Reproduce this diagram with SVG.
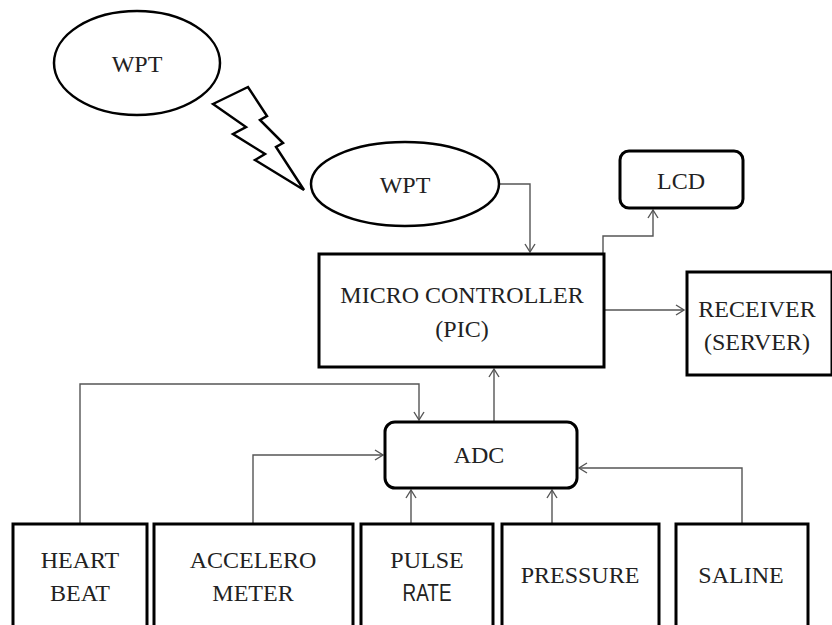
<svg xmlns="http://www.w3.org/2000/svg" width="832" height="625" viewBox="0 0 832 625">
<style>
.box{fill:#fff;stroke:#000;stroke-width:3}
.ell{fill:#fff;stroke:#000;stroke-width:2.5}
.t{font-size:24px;fill:#222;text-anchor:middle}
.s{font-size:24px;fill:#222;text-anchor:middle}
.c{fill:none;stroke:#555;stroke-width:1.4}
</style>
<defs>
<marker id="ar" markerWidth="12" markerHeight="12" viewBox="0 0 12 12" refX="10" refY="6" orient="auto" markerUnits="userSpaceOnUse">
<path d="M2,1 L10,6 L2,11" fill="none" stroke="#555" stroke-width="1.4"/>
</marker>
</defs>
<rect width="832" height="625" fill="#fff"/>
<g id="connectors">
<path class="c" d="M499,184 H530 V252" marker-end="url(#ar)"/>
<path class="c" d="M603,254 V236 H653 V210" marker-end="url(#ar)"/>
<path class="c" d="M605,310 H684" marker-end="url(#ar)"/>
<path class="c" d="M494,422 V369" marker-end="url(#ar)"/>
<path class="c" d="M80,523 V384 H419 V420" marker-end="url(#ar)"/>
<path class="c" d="M253,523 V455 H383" marker-end="url(#ar)"/>
<path class="c" d="M411,523 V490" marker-end="url(#ar)"/>
<path class="c" d="M552,523 V490" marker-end="url(#ar)"/>
<path class="c" d="M742,523 V468 H579" marker-end="url(#ar)"/>
</g>
<g id="lightning">
<polygon points="213,104 248,87 267,116 260,120 283,143 276,147 304,190 255,160 265,154 233,134 246,127" fill="#fff" stroke="#000" stroke-width="2.5" stroke-linejoin="miter"/>
</g>
<g font-family="Liberation Serif, Times New Roman, Times, serif">
<g id="wpt1">
<ellipse class="ell" cx="137" cy="63" rx="83" ry="52"/>
<text class="t" x="137" y="72">WPT</text>
</g>
<g id="wpt2">
<ellipse class="ell" cx="405" cy="184" rx="94" ry="42"/>
<text class="t" x="405" y="193">WPT</text>
</g>
<g id="lcd">
<rect class="box" x="620" y="151" width="123" height="57" rx="9"/>
<text class="t" x="681" y="189">LCD</text>
</g>
<g id="mc">
<rect class="box" x="319" y="254" width="285" height="113"/>
<text class="t" x="462" y="303">MICRO CONTROLLER</text>
<text class="t" x="462" y="337">(PIC)</text>
</g>
<g id="receiver">
<rect class="box" x="687" y="272" width="145" height="103"/>
<text class="t" x="757" y="317">RECEIVER</text>
<text class="t" x="757" y="350">(SERVER)</text>
</g>
<g id="adc">
<rect class="box" x="385" y="422" width="192" height="66" rx="10"/>
<text class="t" x="479" y="463">ADC</text>
</g>
<g id="heartbeat">
<rect class="box" x="13" y="524" width="134" height="110"/>
<text class="t" x="80" y="568">HEART</text>
<text class="t" x="80" y="601">BEAT</text>
</g>
<g id="accelerometer">
<rect class="box" x="154" y="524" width="199" height="110"/>
<text class="t" x="253" y="568">ACCELERO</text>
<text class="t" x="253" y="601">METER</text>
</g>
<g id="pulserate">
<rect class="box" x="361" y="524" width="132" height="110"/>
<text class="t" x="427" y="568">PULSE</text>
<text class="s" x="427" y="601" font-family="Liberation Sans, Arial, sans-serif" textLength="49" lengthAdjust="spacingAndGlyphs">RATE</text>
</g>
<g id="pressure">
<rect class="box" x="502" y="524" width="157" height="110"/>
<text class="t" x="580" y="583">PRESSURE</text>
</g>
<g id="saline">
<rect class="box" x="676" y="524" width="132" height="110"/>
<text class="t" x="741" y="583">SALINE</text>
</g>
</g>
</svg>
